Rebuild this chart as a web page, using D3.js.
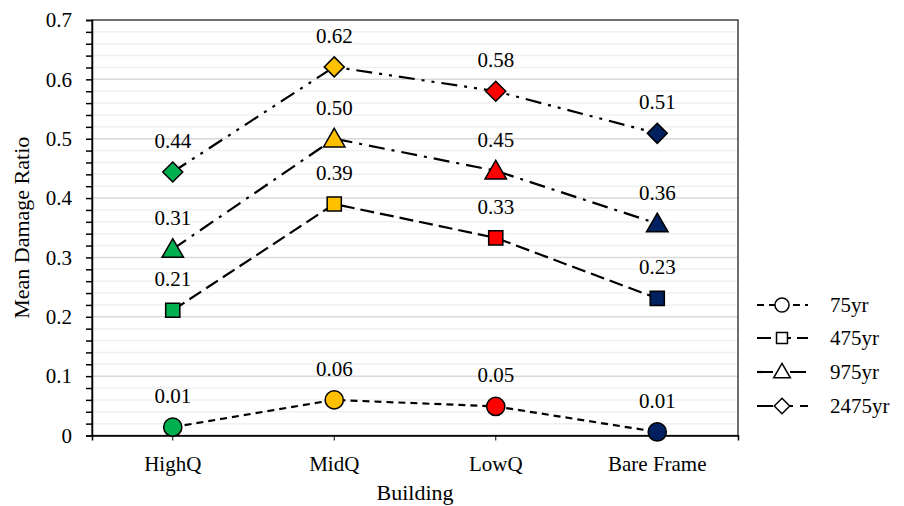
<!DOCTYPE html>
<html>
<head>
<script src="https://cdn.jsdelivr.net/npm/d3@7"></script>
</head>
<body style="margin:0">
<svg id="chart" width="904" height="506" style="font-family: serif"></svg>
<script>
// Building categories and mean damage ratio per return period
const buildings = ["HighQ", "MidQ", "LowQ", "Bare Frame"];
const pointColors = ["#00B050", "#FFC000", "#FF0000", "#002060"];
const seriesNames = ["75yr", "475yr", "975yr", "2475yr"];
const values75 = [0.014, 0.060, 0.049, 0.006];
const values475 = [0.211, 0.390, 0.333, 0.231];
const values975 = [0.314, 0.500, 0.446, 0.357];
const values2475 = [0.444, 0.621, 0.580, 0.509];
const yTicks = [0, 0.1, 0.2, 0.3, 0.4, 0.5, 0.6, 0.7];
const xTitle = "Building";
const yTitle = "Mean Damage Ratio";

const FONT = "serif";

// square rotated 45 degrees, used for the diamond markers
const rotatedSquare = {
  draw(ctx, size) {
    const r = Math.sqrt(size) / Math.SQRT2;
    ctx.moveTo(0, -r); ctx.lineTo(r, 0); ctx.lineTo(0, r); ctx.lineTo(-r, 0); ctx.closePath();
  }
};

const seriesStyle = [
  { values: values75, symbol: d3.symbolCircle, size: 260, dash: "7,5", dy: 0 },
  { values: values475, symbol: d3.symbolSquare, size: 200, dash: "14,6", dy: 0 },
  { values: values975, symbol: d3.symbolTriangle, size: 200, dash: "16,7,3,7", dy: 2 },
  { values: values2475, symbol: rotatedSquare, size: 200, dash: "16,7,3,7,3,7", dy: 0 }
];

const svg = d3.select("#chart");
const margin = { left: 92, top: 20, right: 738, bottom: 435.5 };

const x = d3.scaleBand().domain(buildings).range([margin.left, margin.right]);
const y = d3.scaleLinear().domain([0, 0.7]).range([margin.bottom, margin.top]);
const cx = d => x(d) + x.bandwidth() / 2;

// minor and major gridlines
const minorTicks = d3.range(0, 0.7001, 0.02).filter(v => Math.abs(v * 10 - Math.round(v * 10)) > 1e-6);
svg.append("g").selectAll("line").data(minorTicks).join("line")
  .attr("x1", margin.left).attr("x2", margin.right)
  .attr("y1", d => y(d)).attr("y2", d => y(d))
  .attr("stroke", "#f0f0f0").attr("stroke-width", 1.5);
svg.append("g").selectAll("line").data(yTicks.slice(1, -1)).join("line")
  .attr("x1", margin.left).attr("x2", margin.right)
  .attr("y1", d => y(d)).attr("y2", d => y(d))
  .attr("stroke", "#d9d9d9").attr("stroke-width", 1.5);

// plot frame
svg.append("rect")
  .attr("x", margin.left).attr("y", margin.top)
  .attr("width", margin.right - margin.left).attr("height", margin.bottom - margin.top)
  .attr("fill", "none").attr("stroke", "#222").attr("stroke-width", 1.3);

// y axis
const yAxis = svg.append("g").attr("transform", `translate(${margin.left},0)`)
  .call(d3.axisLeft(y).tickValues(yTicks).tickFormat(d => d === 0 ? "0" : d3.format(".1f")(d)).tickSize(6).tickPadding(14));
yAxis.attr("font-family", FONT);
yAxis.select(".domain").attr("stroke", "#000").attr("stroke-width", 1.5);
yAxis.selectAll(".tick line").attr("stroke-width", 1.5);
yAxis.selectAll("text").attr("font-size", 21).attr("fill", "#000").attr("font-family", FONT);
svg.append("g").attr("transform", `translate(${margin.left},0)`)
  .call(d3.axisLeft(y).tickValues(minorTicks).tickFormat("").tickSize(6))
  .call(g => g.select(".domain").remove())
  .selectAll(".tick line").attr("stroke-width", 1.5);

// x axis
const xAxis = svg.append("g").attr("transform", `translate(0,${margin.bottom})`)
  .call(d3.axisBottom(x).tickSize(5).tickPadding(16));
xAxis.attr("font-family", FONT);
xAxis.select(".domain").attr("stroke", "#000").attr("stroke-width", 1.5);
xAxis.selectAll("text").attr("font-size", 21).attr("fill", "#000").attr("font-family", FONT);

// axis titles
svg.append("text").attr("x", (margin.left + margin.right) / 2).attr("y", 500)
  .attr("text-anchor", "middle").attr("font-size", 22).attr("font-family", FONT).text(xTitle);
svg.append("text")
  .attr("transform", `translate(29,${(margin.top + margin.bottom) / 2}) rotate(-90)`)
  .attr("text-anchor", "middle").attr("font-size", 22).attr("font-family", FONT).text(yTitle);

// series lines, markers and value labels
const line = d3.line().x(d => cx(d.b)).y(d => y(d.v));
seriesStyle.forEach(s => {
  const pts = buildings.map((b, i) => ({ b, v: s.values[i], c: pointColors[i] }));
  const g = svg.append("g");
  g.append("path").datum(pts).attr("d", line)
    .attr("fill", "none").attr("stroke", "#000").attr("stroke-width", 2.2)
    .attr("stroke-dasharray", s.dash);
  g.selectAll("path.m").data(pts).join("path").attr("class", "m")
    .attr("d", d3.symbol().type(s.symbol).size(s.size))
    .attr("transform", d => `translate(${cx(d.b)},${y(d.v) + s.dy})`)
    .attr("fill", d => d.c).attr("stroke", "#000").attr("stroke-width", 1.5);
  g.selectAll("text").data(pts).join("text")
    .attr("x", d => cx(d.b)).attr("y", d => y(d.v) - 24)
    .attr("text-anchor", "middle").attr("font-size", 21).attr("font-family", FONT)
    .text(d => d3.format(".2f")(d.v));
});

// legend
const legendY = [305, 338, 372, 406];
const legend = svg.append("g");
seriesStyle.forEach((s, i) => {
  const row = legend.append("g").attr("transform", `translate(0,${legendY[i]})`);
  row.append("line").attr("x1", 757).attr("x2", 808).attr("y1", 0).attr("y2", 0)
    .attr("stroke", "#000").attr("stroke-width", 2.2).attr("stroke-dasharray", s.dash);
  row.append("path").attr("d", d3.symbol().type(s.symbol).size(s.size * 0.6))
    .attr("transform", `translate(782,${s.dy / 2})`)
    .attr("fill", "#fff").attr("stroke", "#000").attr("stroke-width", 1.5);
  row.append("text").attr("x", 830).attr("y", 7).attr("font-size", 21).attr("font-family", FONT).text(seriesNames[i]);
});
</script>
</body>
</html>
